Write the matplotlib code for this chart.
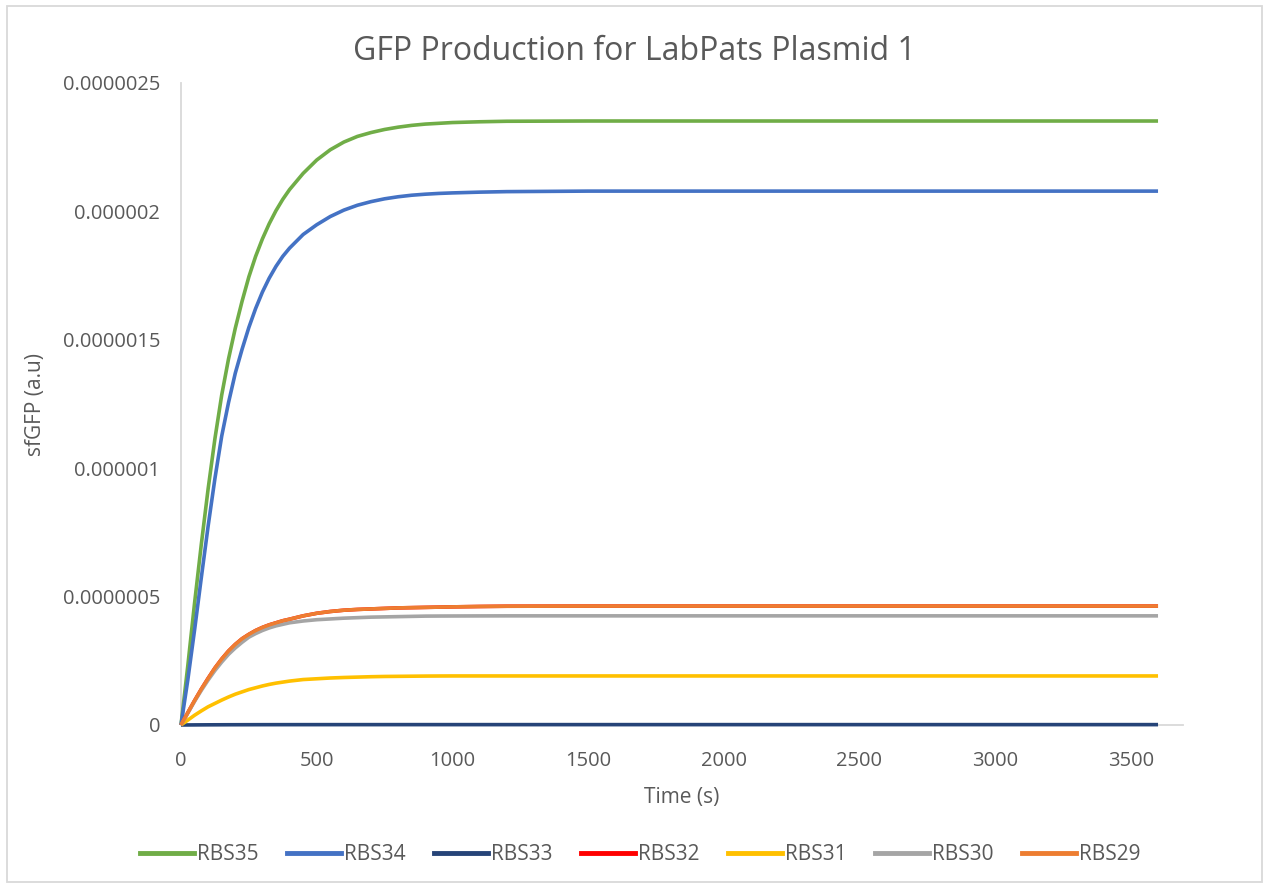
import matplotlib
matplotlib.use("Agg")
import matplotlib.pyplot as plt
from matplotlib.patches import Rectangle
from matplotlib.lines import Line2D

plt.rcParams['font.family'] = ['Open Sans', 'DejaVu Sans']

time_s = [0, 25, 50, 75, 100, 125, 150, 175, 200,
          225, 250, 275, 300, 325, 350, 375, 400,
          450, 500, 550, 600, 650, 700, 750, 800, 850, 900, 950, 1000,
          1100, 1200, 1500, 2000, 2500, 3000, 3600]

rbs35 = [0, 2.3e-7, 4.75e-7, 7.05e-7, 9.2e-7, 1.115e-6, 1.285e-6, 1.425e-6, 1.545e-6,
         1.65e-6, 1.745e-6, 1.825e-6, 1.893e-6, 1.952e-6, 2.003e-6, 2.047e-6, 2.085e-6,
         2.148e-6, 2.2e-6, 2.24e-6, 2.27e-6, 2.292e-6, 2.307e-6, 2.319e-6, 2.328e-6,
         2.335e-6, 2.34e-6, 2.343e-6, 2.346e-6,
         2.349e-6, 2.351e-6, 2.352e-6, 2.352e-6, 2.352e-6, 2.352e-6, 2.352e-6]
rbs34 = [0, 1.75e-7, 3.7e-7, 5.75e-7, 7.75e-7, 9.6e-7, 1.125e-6, 1.255e-6, 1.37e-6,
         1.463e-6, 1.548e-6, 1.622e-6, 1.686e-6, 1.74e-6, 1.786e-6, 1.825e-6, 1.857e-6,
         1.91e-6, 1.948e-6, 1.98e-6, 2.005e-6, 2.024e-6, 2.038e-6, 2.049e-6, 2.057e-6,
         2.063e-6, 2.067e-6, 2.07e-6, 2.072e-6,
         2.075e-6, 2.077e-6, 2.079e-6, 2.079e-6, 2.079e-6, 2.079e-6, 2.079e-6]
rbs33 = [0, 2e-10, 4e-10, 5.5e-10, 7e-10, 8e-10, 9e-10, 1.0e-9, 1.05e-9,
         1.1e-9, 1.15e-9, 1.2e-9, 1.25e-9, 1.28e-9, 1.3e-9, 1.32e-9, 1.34e-9,
         1.37e-9, 1.39e-9, 1.41e-9, 1.42e-9, 1.43e-9, 1.44e-9, 1.44e-9, 1.45e-9,
         1.45e-9, 1.45e-9, 1.45e-9, 1.45e-9,
         1.45e-9, 1.45e-9, 1.45e-9, 1.45e-9, 1.45e-9, 1.45e-9, 1.45e-9]
rbs32 = [0, 4.8e-8, 9.5e-8, 1.4e-7, 1.82e-7, 2.22e-7, 2.57e-7, 2.88e-7, 3.14e-7,
         3.36e-7, 3.53e-7, 3.68e-7, 3.8e-7, 3.9e-7, 3.98e-7, 4.06e-7, 4.12e-7,
         4.25e-7, 4.35e-7, 4.42e-7, 4.47e-7, 4.5e-7, 4.52e-7, 4.54e-7, 4.56e-7,
         4.57e-7, 4.58e-7, 4.59e-7, 4.6e-7,
         4.615e-7, 4.625e-7, 4.63e-7, 4.63e-7, 4.63e-7, 4.63e-7, 4.63e-7]
rbs31 = [0, 1.9e-8, 3.8e-8, 5.5e-8, 7.1e-8, 8.4e-8, 9.7e-8, 1.09e-7, 1.2e-7,
         1.29e-7, 1.38e-7, 1.45e-7, 1.52e-7, 1.58e-7, 1.63e-7, 1.67e-7, 1.71e-7,
         1.77e-7, 1.8e-7, 1.83e-7, 1.85e-7, 1.865e-7, 1.88e-7, 1.89e-7, 1.895e-7,
         1.9e-7, 1.905e-7, 1.908e-7, 1.91e-7,
         1.91e-7, 1.91e-7, 1.91e-7, 1.91e-7, 1.91e-7, 1.91e-7, 1.91e-7]
rbs30 = [0, 4.6e-8, 9.2e-8, 1.35e-7, 1.75e-7, 2.12e-7, 2.45e-7, 2.75e-7, 3.0e-7,
         3.22e-7, 3.42e-7, 3.56e-7, 3.68e-7, 3.78e-7, 3.86e-7, 3.92e-7, 3.98e-7,
         4.05e-7, 4.1e-7, 4.13e-7, 4.16e-7, 4.18e-7, 4.2e-7, 4.21e-7, 4.22e-7,
         4.23e-7, 4.24e-7, 4.243e-7, 4.245e-7,
         4.248e-7, 4.25e-7, 4.25e-7, 4.25e-7, 4.25e-7, 4.25e-7, 4.25e-7]
rbs29 = [0, 4.8e-8, 9.5e-8, 1.4e-7, 1.82e-7, 2.22e-7, 2.57e-7, 2.88e-7, 3.14e-7,
         3.36e-7, 3.53e-7, 3.68e-7, 3.8e-7, 3.9e-7, 3.98e-7, 4.06e-7, 4.12e-7,
         4.25e-7, 4.35e-7, 4.42e-7, 4.47e-7, 4.5e-7, 4.52e-7, 4.54e-7, 4.56e-7,
         4.57e-7, 4.58e-7, 4.59e-7, 4.6e-7,
         4.615e-7, 4.625e-7, 4.63e-7, 4.63e-7, 4.63e-7, 4.63e-7, 4.63e-7]

series_names = ["RBS35", "RBS34", "RBS33", "RBS32", "RBS31", "RBS30", "RBS29"]
series_values = [rbs35, rbs34, rbs33, rbs32, rbs31, rbs30, rbs29]
colors = ["#70AD47", "#4472C4", "#264478", "#FF0000", "#FFC000", "#A5A5A5", "#ED7D31"]

y_ticks = [0, 5e-7, 1e-6, 1.5e-6, 2e-6, 2.5e-6]
y_tick_labels = ["0", "0.0000005", "0.000001", "0.0000015", "0.000002", "0.0000025"]
x_ticks = [0, 500, 1000, 1500, 2000, 2500, 3000, 3500]

txt = "#595959"
fig = plt.figure(figsize=(12.65, 8.86), dpi=100)
ax = fig.add_axes([181/1265, 1-725/886, (1183-181)/1265, (725-83)/886])

for name, vals, c in zip(series_names, series_values, colors):
    ax.plot(time_s, vals, color=c, lw=2.6, label=name, solid_capstyle='butt',
            solid_joinstyle='round', zorder=3, clip_on=False)

ax.set_xlim(0, 3692)
ax.set_ylim(0, 2.5e-6)
ax.set_yticks(y_ticks)
ax.set_yticklabels(y_tick_labels)
ax.set_xticks(x_ticks)
ax.set_xticklabels([str(v) for v in x_ticks])
ax.tick_params(length=0, labelsize=14.5, labelcolor=txt)
ax.tick_params(axis='y', pad=15)
ax.tick_params(axis='x', pad=19)
for s in ['top', 'right']:
    ax.spines[s].set_visible(False)
ax.spines['left'].set_color('#D9D9D9')
ax.spines['bottom'].set_color('#D9D9D9')
ax.spines['left'].set_linewidth(1.3)
ax.spines['bottom'].set_linewidth(1.3)

fig.text(634/1265, 1-51/886, "GFP Production for LabPats Plasmid 1", ha='center', va='center',
         fontsize=23, color=txt)
fig.text(682/1265, 1-797/886, "Time (s)", ha='center', va='center', fontsize=15, color=txt)
fig.text(36/1265, 1-405/886, "sfGFP (a.u)", ha='center', va='center', fontsize=15, color=txt,
         rotation=90)

handles = [Line2D([0], [0], color=c, lw=3.5) for c in colors]
fig.legend(handles, series_names, loc='center', bbox_to_anchor=(640/1265, 1-855/886),
           ncol=7, frameon=False, fontsize=15, labelcolor=txt, handlelength=2.6,
           handletextpad=0.15, columnspacing=1.35)

fig.patches.append(Rectangle((7/1265, 4/886), 1255/1265, 876/886, transform=fig.transFigure,
                             fill=False, edgecolor='#D9D9D9', lw=1.3))

fig.savefig("out.png", dpi=100, facecolor='white')
